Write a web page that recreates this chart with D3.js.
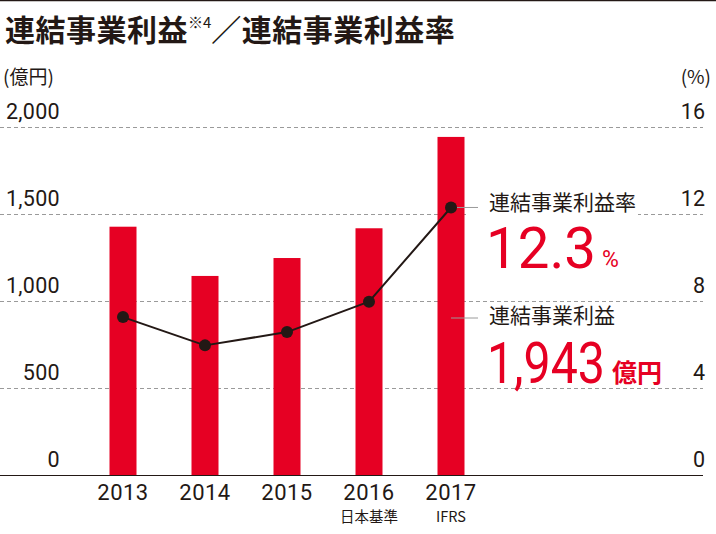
<!DOCTYPE html>
<html>
<head>
<meta charset="utf-8">
<script src="https://cdn.jsdelivr.net/npm/d3@7"></script>
<style>
  body { margin: 0; background: #fff; }
  svg { display: block; }
</style>
</head>
<body>
<svg width="716" height="534"></svg>
<script>
// data
var years = ["2013", "2014", "2015", "2016", "2017"];
var subLabels = ["", "", "", "日本基準", "IFRS"];
var profit = [1427, 1144, 1247, 1418, 1943];      // 億円
var margin = [7.26, 5.96, 6.57, 7.97, 12.3];       // %
var leftTicks = [0, 500, 1000, 1500, 2000];
var rightTicks = [0, 4, 8, 12, 16];

var red = "#e60023",
    ink = "#231815",
    grid = "#9a9a9a";

var svg = d3.select("svg");
var jp = "'Noto Sans CJK JP', 'Noto Sans', sans-serif",
    num = "Roboto, 'Noto Sans', sans-serif";

var x = d3.scalePoint().domain(years).range([123, 451]);
var y = d3.scaleLinear().domain([0, 2000]).range([475, 127]);
var y2 = d3.scaleLinear().domain([0, 16]).range([475, 127]);
var barW = 27;

// top rule
svg.append("line")
    .attr("x1", 0).attr("x2", 716).attr("y1", 0.5).attr("y2", 0.5)
    .attr("stroke", ink).attr("stroke-width", 1.5);

// title
var title = svg.append("text")
    .attr("x", 5).attr("y", 41)
    .attr("font-family", jp).attr("font-weight", 700)
    .attr("font-size", 30).attr("letter-spacing", 0.5).attr("fill", ink);
title.append("tspan").text("連結事業利益");
title.append("tspan").attr("font-size", 15).attr("dy", -13).attr("font-weight", 400)
    .attr("letter-spacing", 0).text("※4");
title.append("tspan").attr("dy", 13).attr("dx", 0).text("／連結事業利益率");

// units
svg.append("text").attr("x", 3).attr("y", 84)
    .attr("font-family", jp).attr("font-size", 19).attr("fill", ink).text("(億円)");
svg.append("text").attr("x", 711).attr("y", 84).attr("text-anchor", "end")
    .attr("font-family", jp).attr("font-size", 19).attr("fill", ink).text("(%)");

// gridlines
svg.append("g").selectAll("line")
    .data(leftTicks.filter(function(d) { return d > 0; }))
    .enter().append("line")
      .attr("x1", 0).attr("x2", 703)
      .attr("y1", function(d) { return Math.round(y(d)) + 0.5; })
      .attr("y2", function(d) { return Math.round(y(d)) + 0.5; })
      .attr("stroke", grid).attr("stroke-width", 1)
      .attr("stroke-dasharray", "4,3");

// left tick labels
svg.append("g").selectAll("text")
    .data(leftTicks)
    .enter().append("text")
      .attr("x", 60).attr("y", function(d) { return y(d) - 8; })
      .attr("text-anchor", "end")
      .attr("font-family", num).attr("font-size", 21.5).attr("fill", ink)
      .attr("letter-spacing", 0.3)
      .text(function(d) { return d3.format(",")(d); });

// right tick labels
svg.append("g").selectAll("text")
    .data(rightTicks)
    .enter().append("text")
      .attr("x", 705).attr("y", function(d) { return y2(d) - 8; })
      .attr("text-anchor", "end")
      .attr("font-family", num).attr("font-size", 21.5).attr("fill", ink)
      .text(function(d) { return d; });

// bars
svg.append("g").selectAll("rect")
    .data(profit)
    .enter().append("rect")
      .attr("x", function(d, i) { return x(years[i]) - barW / 2; })
      .attr("y", function(d) { return y(d); })
      .attr("width", barW)
      .attr("height", function(d) { return y(0) - y(d); })
      .attr("fill", red);

// baseline
svg.append("line")
    .attr("x1", 0).attr("x2", 703).attr("y1", 475.5).attr("y2", 475.5)
    .attr("stroke", ink).attr("stroke-width", 1.2);

// year labels
svg.append("g").selectAll("text")
    .data(years)
    .enter().append("text")
      .attr("x", function(d) { return x(d); }).attr("y", 500)
      .attr("text-anchor", "middle")
      .attr("font-family", num).attr("font-size", 22).attr("fill", ink)
      .attr("letter-spacing", 0.5)
      .text(function(d) { return d; });
svg.append("g").selectAll("text")
    .data(subLabels)
    .enter().append("text")
      .attr("x", function(d, i) { return x(years[i]); }).attr("y", 522)
      .attr("text-anchor", "middle")
      .attr("font-family", jp).attr("font-size", 14.5).attr("fill", ink)
      .text(function(d) { return d; });

// margin line
var line = d3.line()
    .x(function(d, i) { return x(years[i]); })
    .y(function(d) { return y2(d); });
svg.append("path")
    .datum(margin)
    .attr("fill", "none").attr("stroke", ink).attr("stroke-width", 2)
    .attr("stroke-linejoin", "round")
    .attr("d", line);
svg.append("g").selectAll("circle")
    .data(margin)
    .enter().append("circle")
      .attr("cx", function(d, i) { return x(years[i]); })
      .attr("cy", function(d) { return y2(d); })
      .attr("r", 6).attr("fill", ink);

// callouts
var last = years.length - 1;
var lx = 478, tx = 489;
svg.append("rect").attr("x", 466).attr("y", 200).attr("width", 172).attr("height", 20).attr("fill", "#fff");
svg.append("line")
    .attr("x1", x(years[last]) + 6).attr("x2", lx)
    .attr("y1", y2(margin[last])).attr("y2", y2(margin[last]))
    .attr("stroke", grid).attr("stroke-width", 1);
svg.append("line")
    .attr("x1", x(years[last])).attr("x2", lx)
    .attr("y1", 318).attr("y2", 318)
    .attr("stroke", grid).attr("stroke-width", 1);

svg.append("text").attr("x", tx).attr("y", 210)
    .attr("font-family", jp).attr("font-size", 21).attr("fill", ink)
    .text("連結事業利益率");
svg.append("text").attr("x", tx - 3).attr("y", 268)
    .attr("font-family", num).attr("font-weight", 400).attr("fill", red)
    .attr("font-size", 57)
    .attr("textLength", 110).attr("lengthAdjust", "spacingAndGlyphs")
    .text(d3.format(".1f")(margin[last]));
svg.append("text").attr("x", 602).attr("y", 267)
    .attr("font-family", num).attr("font-weight", 400).attr("fill", red)
    .attr("font-size", 23).text("%");

svg.append("text").attr("x", tx).attr("y", 323)
    .attr("font-family", jp).attr("font-size", 21).attr("fill", ink)
    .text("連結事業利益");
svg.append("text").attr("x", tx - 2).attr("y", 383)
    .attr("font-family", num).attr("font-weight", 400).attr("fill", red)
    .attr("font-size", 57)
    .attr("textLength", 118).attr("lengthAdjust", "spacingAndGlyphs")
    .text(d3.format(",")(profit[last]));
svg.append("text").attr("x", 612).attr("y", 382)
    .attr("font-family", jp).attr("font-weight", 700).attr("fill", red)
    .attr("font-size", 25).text("億円");
</script>
</body>
</html>
